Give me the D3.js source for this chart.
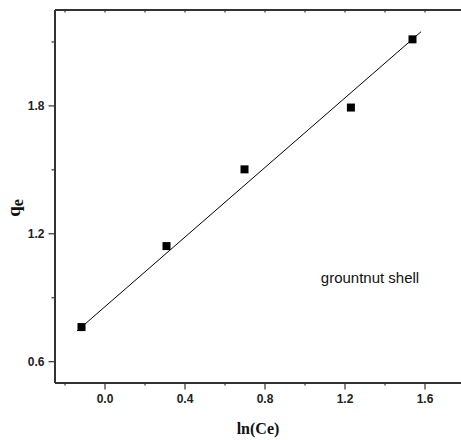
<!DOCTYPE html>
<html>
<head>
<meta charset="utf-8">
<script src="https://cdn.jsdelivr.net/npm/d3@7"></script>
<style>
  body { margin: 0; background: #fff; }
  svg { display: block; }
  .tick text { font-family: "Liberation Sans Narrow", "Liberation Sans", Arial, sans-serif; font-weight: bold; font-size: 12px; fill: #222; }
</style>
</head>
<body>
<div id="chart"></div>
<script>
// measured points, ln(Ce) vs qe
const ln_ce = [-0.115, 0.31, 0.70, 1.232, 1.54];
const qe = [0.76, 1.14, 1.50, 1.79, 2.11];

// linear fit drawn in the figure (end points)
const fit_x = [-0.137, 1.583];
const fit_y = [0.742, 2.146];

const x_major = [0.0, 0.4, 0.8, 1.2, 1.6];
const x_minor = [-0.2, 0.2, 0.6, 1.0, 1.4, 1.8];
const y_major = [0.6, 1.2, 1.8];
const y_minor = [0.9, 1.5, 2.1];

const width = 461;
const height = 440;

const m_left = 54.5;
const m_top = 9.5;
const m_bottom = 382.5;

const svg = d3.select("#chart")
  .append("svg")
  .attr("width", width)
  .attr("height", height);

const x = d3.scaleLinear()
  .domain([-0.25, 1.85])
  .range([m_left, m_left + 2.1 * 200]);

const y = d3.scaleLinear()
  .domain([0.5, 2.25])
  .range([m_bottom, m_top]);

const fmt = d3.format(".1f");

// bottom axis
svg.append("g")
  .attr("transform", `translate(0,${m_bottom})`)
  .call(d3.axisBottom(x).tickValues(x_minor).tickSize(3).tickFormat(""))
  .call(g => g.select(".domain").remove());
svg.append("g")
  .attr("transform", `translate(0,${m_bottom})`)
  .call(d3.axisBottom(x).tickValues(x_major).tickSizeInner(7).tickSizeOuter(0).tickPadding(5).tickFormat(fmt))
  .call(g => g.select(".domain").attr("stroke-width", 2).attr("stroke", "#333"));

// top axis, ticks pointing in
svg.append("g")
  .attr("transform", `translate(0,${m_top})`)
  .call(d3.axisTop(x).tickValues(x_major.concat(x_minor)).tickSizeInner(-3).tickSizeOuter(0).tickFormat(""))
  .call(g => g.select(".domain").attr("stroke-width", 2).attr("stroke", "#333"));

// left axis
svg.append("g")
  .attr("transform", `translate(${m_left},0)`)
  .call(d3.axisLeft(y).tickValues(y_minor).tickSize(3).tickFormat(""))
  .call(g => g.select(".domain").remove());
svg.append("g")
  .attr("transform", `translate(${m_left},0)`)
  .call(d3.axisLeft(y).tickValues(y_major).tickSizeInner(6).tickSizeOuter(0).tickPadding(4).tickFormat(fmt))
  .call(g => g.select(".domain").attr("stroke-width", 2).attr("stroke", "#333"));

svg.selectAll(".tick line").attr("stroke", "#333").attr("stroke-width", 1.2);

// fit line
svg.append("line")
  .attr("x1", x(fit_x[0]))
  .attr("y1", y(fit_y[0]))
  .attr("x2", x(fit_x[1]))
  .attr("y2", y(fit_y[1]))
  .attr("stroke", "#000")
  .attr("stroke-width", 1);

// square markers
const size = 8;
svg.selectAll("rect.pt")
  .data(d3.zip(ln_ce, qe))
  .enter()
  .append("rect")
  .attr("class", "pt")
  .attr("width", size)
  .attr("height", size)
  .attr("x", d => x(d[0]) - size / 2)
  .attr("y", d => y(d[1]) - size / 2)
  .attr("fill", "#000");

// labels
svg.append("text")
  .attr("x", 370)
  .attr("y", 283)
  .attr("text-anchor", "middle")
  .attr("font-family", "Liberation Sans Narrow, Liberation Sans, Arial, sans-serif")
  .attr("font-size", 15)
  .attr("fill", "#111")
  .text("grountnut shell");

svg.append("text")
  .attr("x", 258)
  .attr("y", 434)
  .attr("text-anchor", "middle")
  .attr("font-family", "Liberation Serif, Times New Roman, serif")
  .attr("font-weight", "bold")
  .attr("font-size", 16)
  .attr("fill", "#111")
  .text("ln(Ce)");

const ylab = svg.append("text")
  .attr("transform", "translate(20,208) rotate(-90)")
  .attr("text-anchor", "middle")
  .attr("font-family", "Liberation Serif, Times New Roman, serif")
  .attr("font-weight", "bold")
  .attr("font-size", 19)
  .attr("fill", "#111");
ylab.append("tspan").text("q");
ylab.append("tspan").attr("dy", 3).attr("font-size", 16).text("e");
</script>
</body>
</html>
